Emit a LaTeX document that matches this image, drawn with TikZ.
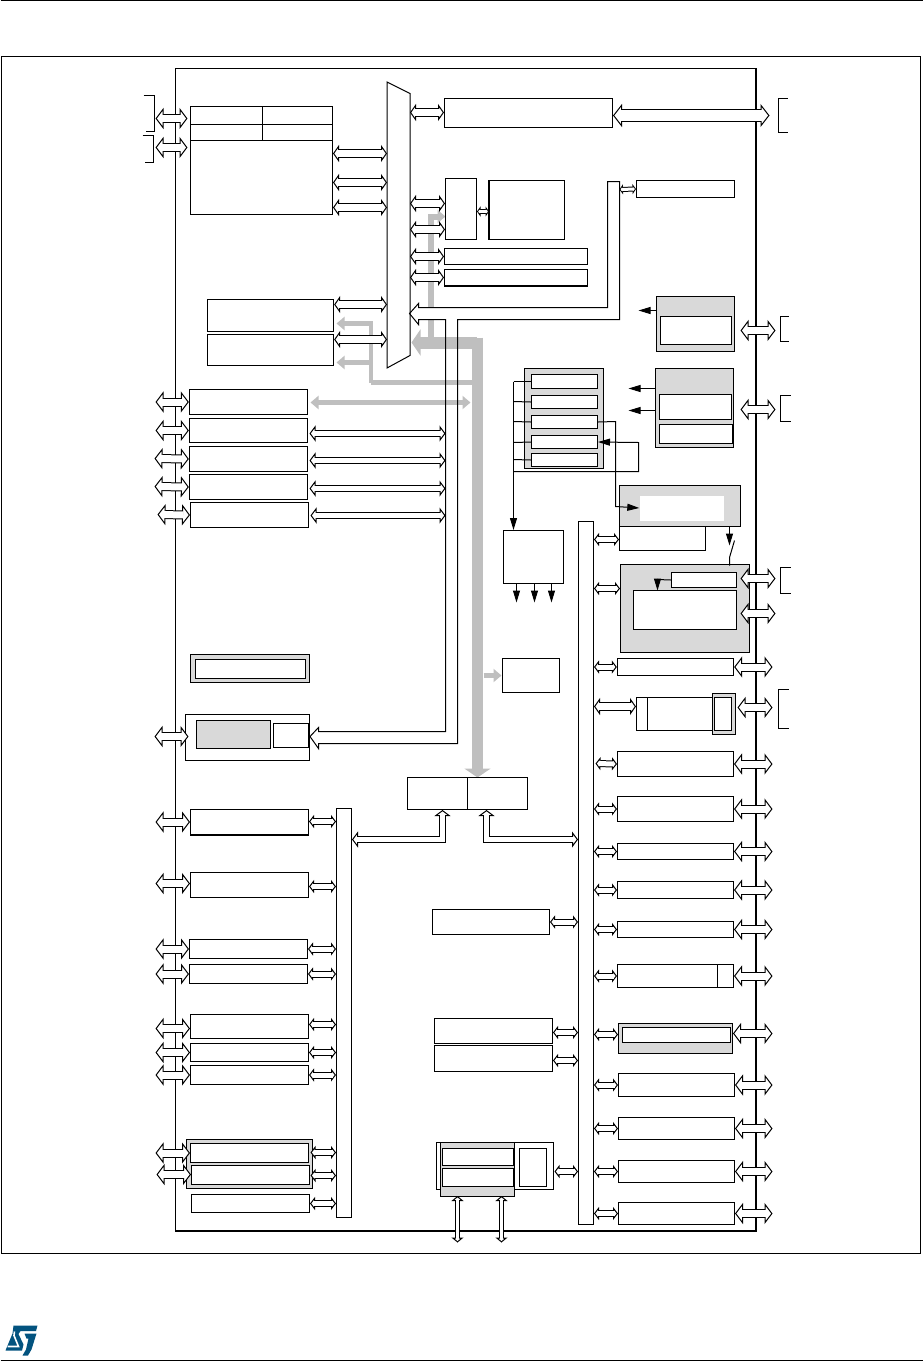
\documentclass[tikz,border=0pt]{standalone}
\usepackage{tikz}
\usetikzlibrary{arrows.meta,fit}
\definecolor{busgray}{HTML}{BFBFBF}
\definecolor{boxgray}{HTML}{D9D9D9}
\definecolor{stblue}{HTML}{03537F}
\tikzset{
blk/.style={draw,fill=white,inner sep=0pt,line width=1pt},
blkb/.style={blk,line width=1.3pt},
grybox/.style={blk,fill=boxgray},
bigarr/.style={<->,>={Triangle[length=8pt,width=21pt,line width=1pt,fill=white]},line width=9pt,postaction={draw=white,line width=7pt,arrows=-,shorten >=6.5pt,shorten <=6.5pt}},
widearr/.style={<->,>={Triangle[length=9pt,width=23pt,line width=1pt,fill=white]},line width=13pt,postaction={draw=white,line width=11pt,arrows=-,shorten >=7.5pt,shorten <=7.5pt}},
medarr/.style={<->,>={Triangle[length=6pt,width=17pt,line width=1pt,fill=white]},line width=9pt,postaction={draw=white,line width=7pt,arrows=-,shorten >=4.5pt,shorten <=4.5pt}},
thinarr/.style={<->,>={Triangle[length=6pt,width=16pt,line width=1pt,fill=white]},line width=7pt,postaction={draw=white,line width=5pt,arrows=-,shorten >=4.5pt,shorten <=4.5pt}},
smarr/.style={<->,>={Triangle[length=5pt,width=13pt,line width=1pt,fill=white]},line width=7pt,postaction={draw=white,line width=5pt,arrows=-,shorten >=3.5pt,shorten <=3.5pt}},
vertarr/.style={<->,>={Triangle[length=5pt,width=12pt,line width=1pt,fill=white]},line width=5pt,postaction={draw=white,line width=3pt,arrows=-,shorten >=3.5pt,shorten <=3.5pt}},
tinyarr/.style={<->,>={Triangle[length=3.5pt,width=10pt,line width=.8pt,fill=white]},line width=5pt,postaction={draw=white,line width=3pt,arrows=-,shorten >=2.2pt,shorten <=2.2pt}},
sig/.style={-{Triangle[length=12pt,width=7pt]},line width=1pt},
wire/.style={line width=1pt},
gry/.style={draw=busgray,line width=#1},
gryhead/.style={-{Triangle[length=8pt,width=13pt,color=busgray]}},
gryboth/.style={{Triangle[length=8pt,width=13pt,color=busgray]}-{Triangle[length=8pt,width=13pt,color=busgray]}}
}
\begin{document}
\begin{tikzpicture}[x=1pt,y=-1pt,shift={(.5,.5)}]
\useasboundingbox (-.5,-.5) rectangle (921.5,1360.5);
\draw[wire] (0,0) -- (922,0);
\draw[wire] (0,1360) -- (922,1360);
\node[draw,inner sep=0pt,line width=1pt,fit={(1,56) (920,1253)}] (page) {};
\node[draw,inner sep=0pt,line width=1pt,fit={(175,68) (755,1230)}] (chip) {};
\draw[line width=2pt] (chip.north east) -- (chip.south east) -- (chip.south west);
\coordinate (padl) at (155,0);\coordinate (padr) at (772,0);
\coordinate (stripl) at (445,319);\coordinate (stripr) at (457,319);\coordinate (stripm) at (619,189);
\draw[wire] (143,95) -- (154,95) -- (154,131) -- (145,131);
\draw[wire] (142,135) -- (153,135) -- (153,162) -- (144,162);
\draw[wire] (787,98) -- (778,98) -- (778,132) -- (787,132);
\draw[wire] (788,316) -- (780,316) -- (780,341) -- (788,341);
\draw[wire] (790,395) -- (780,395) -- (780,421) -- (790,421);
\draw[wire] (790,567) -- (780,567) -- (780,593) -- (790,593);
\draw[wire] (788,689) -- (778,689) -- (778,728) -- (788,728);
\draw[gry=6pt,-{Triangle[length=8pt,width=13pt,color=busgray]}] (430,342) -- (430,216) -- (445,216);
\fill[white] (418,307) rectangle (445,319);
\draw[gry=12pt,-{Triangle[length=9pt,width=26pt,color=busgray]}] (476.5,342) -- (411,342);
\draw[gry=11pt,-{Triangle[length=9pt,width=26pt,color=busgray]}] (477,337) -- (477,777);
\draw[gry=4.5pt] (472,382) -- (370.5,382);
\draw[gry=4.5pt,gryhead] (370.5,382) -- (370.5,323) -- (336,323);
\draw[gry=4.5pt,gryhead] (370.5,362) -- (336,362);
\draw[gry=5pt,gryboth] (310,402) -- (470,402);
\draw[gry=5pt,gryhead] (483,675) -- (501,675);
\node[blk,fit={(387,82) (409,367)},draw=none,fill=none] (busm) {};
\draw[blk] (busm.north west) -- (busm.east |- 0,93) -- (busm.east |- 0,355) -- (busm.south west) -- cycle;
\node[blk,fit={(190,106) (262,124)}] (fcta) {};
\node[blk,fit={(262,106) (332,124)}] (fctb) {};
\node[blk,fit={(190,124) (262,140)}] (fctc) {};
\node[blk,fit={(262,124) (332,140)}] (fctd) {};
\node[blk,fit={(190,140) (332,214)}] (flash) {};
\node[blkb,fit={(207,299) (333,331)}] (dmaa) {};
\node[blkb,fit={(207,334) (333,365)}] (dmab) {};
\node[blk,fit={(444,98) (612,127)}] (fsmc) {};
\node[blk,fit={(445,178) (476,239)}] (arb) {};
\node[blk,fit={(489,180) (564,239)}] (sram) {};
\draw[line width=1.6pt] (sram.north west) -- (sram.south west);
\node[blk,fit={(444,248) (587,264)}] (ahba) {};
\node[blk,fit={(444,269) (587,285)}] (ahbb) {};
\draw[line width=1.6pt] (ahbb.south west) -- (ahbb.south east);
\node[blk,fit={(636,180) (734,197)}] (crc) {};
\node[grybox,fit={(656,296) (734,351)}] (wkup) {};
\node[blk,fit={(660,316) (731,344)}] (wkupi) {};
\node[grybox,fit={(655,368) (733,447)}] (sup) {};
\node[blk,fit={(659,394) (731,419)}] (supa) {};
\node[blk,fit={(659,424) (732,443)}] (supb) {};
\node[grybox,fit={(524,368) (603,468)}] (rcc) {};
\node[blk,fit={(531,374) (597,388)}] (rcca) {};
\node[blk,fit={(531,395) (597,408)}] (rccb) {};
\node[blk,fit={(531,415) (597,428)}] (rccc) {};
\node[blk,fit={(531,435) (597,448)}] (rccd) {};
\node[blk,fit={(531,453) (597,466)}] (rcce) {};
\node[grybox,fit={(619,485) (740,526)}] (rtc) {};
\node[fill=white,inner sep=0pt,fit={(639,495) (723,520)}] (rtci) {};
\node[blk,fit={(619,526) (705,550)}] (rtcb) {};
\node[blk,fit={(503,530) (563,583)}] (pll) {};
\node[grybox,fit={(620,564) (749,652)}] (bkp) {};
\node[blk,fit={(671,572) (736,587)}] (bkpa) {};
\node[blk,fit={(633,590) (736,629)}] (bkpb) {};
\node[blkb,fit={(617,658) (733,675)}] (apba) {};
\node[blk,fit={(636,697) (712,730)}] (apbb) {};
\draw[blk] (647,697) -- (647,730);
\node[grybox,fit={(712,693) (735,734)}] (apbc) {};
\node[blk,fit={(714,697) (731,730)}] (apbd) {};
\node[blk,fit={(617,751) (733,776)}] (apbe) {};
\node[blk,fit={(617,796) (733,821)}] (apbf) {};
\node[blk,fit={(617,843) (733,859)}] (apbg) {};
\node[blk,fit={(617,881) (733,898)}] (apbh) {};
\node[blk,fit={(617,921) (733,937)}] (apbi) {};
\node[blk,fit={(617,964) (733,987)}] (apbj) {};
\draw[blk] (717,964) -- (717,987);
\node[grybox,fit={(618,1023) (732,1053)}] (apbk) {};
\node[blk,fit={(622,1027) (730,1042)}] (apbl) {};
\node[blk,fit={(618,1073) (734,1096)}] (apbm) {};
\node[blk,fit={(618,1117) (734,1139)}] (apbn) {};
\node[blk,fit={(618,1160) (734,1182)}] (apbo) {};
\node[blk,fit={(618,1202) (734,1224)}] (apbp) {};
\node[blk,fit={(578,521) (593,1224)}] (busr) {};
\node[blk,fit={(336,808) (351,1217)}] (busl) {};
\node[blk,fit={(502,658) (559,692)}] (adc) {};
\node[blk,fit={(407,777) (467,809)}] (brga) {};
\node[blk,fit={(467,777) (527,809)}] (brgb) {};
\node[blk,fit={(432,909) (549,934)}] (tima) {};
\node[blk,fit={(434,1018) (552,1043)}] (timb) {};
\node[blk,fit={(434,1045) (552,1071)}] (timc) {};
\node[blk,fit={(436,1142) (553,1189)}] (ethb) {};
\node[grybox,draw=none,fit={(440,1142) (513,1195)}] (ethg) {};
\draw[wire] (ethg.north west) -- (ethg.south west) -- (ethg.south east) -- (ethg.north east);
\node[blk,fit={(442,1148) (513,1165)}] (etha) {};
\node[blk,fit={(442,1168) (513,1186)}] (ethc) {};
\node[blk,fit={(519,1148) (546,1186)}] (ethd) {};
\node[blkb,fit={(189,389) (307,414)}] (usa) {};
\node[blkb,fit={(189,418) (307,442)}] (usb) {};
\node[blkb,fit={(189,446) (307,471)}] (usc) {};
\node[blkb,fit={(189,474) (307,499)}] (usd) {};
\node[blk,fit={(190,502) (308,527)}] (use) {};
\node[grybox,line width=1.4pt,fit={(190,654) (309,682)}] (pwr) {};
\node[blk,fit={(195,659) (305,678)}] (pwri) {};
\node[blk,fit={(185,714) (309,760)}] (dbg) {};
\node[grybox,line width=1.4pt,fit={(196,720) (270,748)}] (dbga) {};
\node[blk,fit={(273,723) (308,747)}] (dbgb) {};
\node[blk,fit={(190,809) (308,834)}] (pera) {};
\draw[line width=1.6pt] (pera.south west) -- (pera.south east);
\node[blk,fit={(190,872) (308,897)}] (perb) {};
\node[blk,fit={(189,939) (307,958)}] (perc) {};
\node[blk,fit={(189,964) (307,983)}] (perd) {};
\node[blk,fit={(190,1014) (308,1038)}] (pere) {};
\node[blk,fit={(190,1043) (308,1061)}] (perf) {};
\node[blk,fit={(190,1065) (308,1084)}] (perg) {};
\node[grybox,fit={(186,1139) (312,1188)}] (usbg) {};
\node[blk,fit={(190,1143) (308,1162)}] (usba) {};
\node[blk,fit={(191,1165) (309,1184)}] (usbb) {};
\node[blk,fit={(191,1194) (309,1212)}] (perh) {};
\draw[wire] (409,313) -- (418,303) -- (418,307) -- (607,307) -- (607,181) -- (stripm |- 0,181) -- (stripm |- stripr) -- (stripr) -- (stripr |- 0,743) -- (318,743) -- (318,748) -- (dbg.east |- 0,736) -- (318,727) -- (318,731) -- (stripl |- 0,731) -- (stripl) -- (418,319) -- (418,324) -- cycle;
\draw[bigarr] (padl |- 0,118) -- (187,118);
\draw[bigarr] (padl |- 0,147) -- (187,147);
\draw[medarr] (flash.east |- 0,153) -- (busm.west |- 0,153);
\draw[medarr] (flash.east |- 0,182) -- (busm.west |- 0,182);
\draw[medarr] (flash.east |- 0,207) -- (busm.west |- 0,207);
\draw[medarr] (dmaa.east |- 0,304) -- (busm.west |- 0,304);
\draw[medarr] (dmab.east |- 0,339) -- (busm.west |- 0,339);
\draw[medarr] (busm.east |- 0,112) -- (fsmc.west |- 0,112);
\draw[widearr] (fsmc.east |- 0,115) -- (769,115);
\draw[medarr] (busm.east |- 0,203) -- (arb.west |- 0,203);
\draw[medarr] (busm.east |- 0,229) -- (arb.west |- 0,229);
\draw[medarr] (busm.east |- 0,256) -- (ahba.west);
\draw[medarr] (busm.east |- 0,277) -- (ahbb.west);
\draw[tinyarr] (arb.east |- 0,211) -- (sram.west |- 0,211);
\draw[tinyarr] (stripm) -- (crc.west);
\draw[sig] (wkup.west |- 0,310) -- (638,310);
\draw[bigarr] (740,330) -- (775,330);
\draw[sig] (sup.west |- 0,388) -- (628,388);
\draw[sig] (sup.west |- 0,410) -- (628,410);
\draw[bigarr] (740,409) -- (775,409);
\draw[sig] (513,381) -- (pll.north -| 513,0);
\draw[wire] (513,381) -- (rcca.west);
\draw[wire] (513,401) -- (rccb.west);
\draw[wire] (513,421) -- (rccc.west);
\draw[wire] (513,442) -- (rccd.west);
\draw[wire] (513,459) -- (rcce.west);
\draw[sig] (513,471) -- (638,471) -- (638,442) -- (rccd.east);
\draw[sig] (rccc.east) -- (615,421) -- (615,506) -- (rtci.west);
\draw[sig] (729,526) -- (729,545);
\draw[wire] (734,540) -- (729,557) -- (729,565);
\draw[sig] (bkpa.west) -- (657,579) -- (657,590);
\draw[sig] (516,583) -- (516,602);\draw[sig] (534,583) -- (534,602);\draw[sig] (551,583) -- (551,602);
\draw[smarr] (busr.east |- 0,539) -- (rtcb.west |- 0,539);
\draw[smarr] (busr.east |- 0,588) -- (bkp.west |- 0,588);
\draw[bigarr] (740,578) -- (775,578);
\draw[bigarr] (740,613) -- (775,613);
\draw[smarr] (busr.east |- apba.west) -- (apba.west);
\draw[bigarr] (apba.east) -- (apba.east -| padr);
\draw[medarr] (busr.east |- 0,706) -- (apbb.west |- 0,706);
\draw[bigarr] (737,707) -- (padr |- 0,707);
\draw[smarr] (595,763) -- (apbe.west);
\draw[bigarr] (apbe.east) -- (apbe.east -| padr);
\draw[smarr] (busr.east |- apbf.west) -- (apbf.west);
\draw[bigarr] (apbf.east) -- (apbf.east -| padr);
\draw[smarr] (busr.east |- apbg.west) -- (apbg.west);
\draw[bigarr] (apbg.east) -- (apbg.east -| padr);
\draw[smarr] (busr.east |- apbh.west) -- (apbh.west);
\draw[bigarr] (apbh.east) -- (apbh.east -| padr);
\draw[smarr] (busr.east |- apbi.west) -- (apbi.west);
\draw[bigarr] (apbi.east) -- (apbi.east -| padr);
\draw[smarr] (busr.east |- apbj.west) -- (apbj.west);
\draw[bigarr] (apbj.east) -- (apbj.east -| padr);
\draw[smarr] (busr.east |- 0,1034) -- (apbk.west |- 0,1034);
\draw[bigarr] (apbk.east |- 0,1033) -- (padr |- 0,1033);
\draw[smarr] (busr.east |- apbm.west) -- (apbm.west);
\draw[bigarr] (apbm.east) -- (apbm.east -| padr);
\draw[smarr] (busr.east |- apbn.west) -- (apbn.west);
\draw[bigarr] (apbn.east) -- (apbn.east -| padr);
\draw[smarr] (busr.east |- apbo.west) -- (apbo.west);
\draw[bigarr] (apbo.east) -- (apbo.east -| padr);
\draw[smarr] (busr.east |- apbp.west) -- (apbp.west);
\draw[bigarr] (apbp.east) -- (apbp.east -| padr);
\coordinate (brgbr) at (486,839);\coordinate (brgal) at (442,839);
\draw[thinarr] (busl.east |- brgal) -- (brgal) -- (brgal |- brga.south);
\draw[thinarr] (brgbr |- brgb.south) -- (brgbr) -- (busr.west |- brgbr);
\draw[smarr] (tima.east) -- (tima.east -| busr.west);
\draw[smarr] (timb.east |- 0,1032) -- (busr.west |- 0,1032);
\draw[smarr] (timc.east |- 0,1060) -- (busr.west |- 0,1060);
\draw[smarr] (554,1171) -- (busr.west |- 0,1171);
\coordinate (ethpa) at (457,1242);\coordinate (ethpb) at (501,1242);
\draw[vertarr] (ethpa |- ethg.south) -- (ethpa);
\draw[vertarr] (ethpb |- ethg.south) -- (ethpb);
\draw[bigarr] (padl |- usa.west) -- (usa.west);
\draw[bigarr] (padl |- usb.west) -- (usb.west);
\draw[bigarr] (154,458) -- (usc.west);
\draw[bigarr] (154,486) -- (usd.west);
\draw[bigarr] (157,514) -- (use.west);
\draw[thinarr] (309,433) -- (stripl |- 0,433);
\draw[thinarr] (309,460) -- (stripl |- 0,460);
\draw[thinarr] (309,488) -- (stripl |- 0,488);
\draw[thinarr] (310,515) -- (stripl |- 0,515);
\draw[bigarr] (154,736) -- (188,736);
\draw[bigarr] (padl |- pera.west) -- (pera.west);
\draw[smarr] (pera.east |- 0,821) -- (busl.west |- 0,821);
\draw[bigarr] (padl |- 0,883) -- (perb.west |- 0,883);
\draw[smarr] (perb.east |- 0,886) -- (busl.west |- 0,886);
\draw[bigarr] (padl |- perc.west) -- (perc.west);
\draw[smarr] (perc.east) -- (perc.east -| busl.west);
\draw[bigarr] (padl |- perd.west) -- (perd.west);
\draw[smarr] (perd.east) -- (perd.east -| busl.west);
\draw[bigarr] (padl |- 0,1028) -- (pere.west |- 0,1028);
\draw[smarr] (pere.east |- 0,1024) -- (busl.west |- 0,1024);
\draw[bigarr] (padl |- perf.west) -- (perf.west);
\draw[smarr] (perf.east) -- (perf.east -| busl.west);
\draw[bigarr] (padl |- perg.west) -- (perg.west);
\draw[smarr] (perg.east) -- (perg.east -| busl.west);
\draw[bigarr] (padl |- usba.west) -- (usba.west);
\draw[smarr] (310,1152) -- (busl.west |- 0,1152);
\draw[bigarr] (156,1174) -- (usbb.west |- 0,1174);
\draw[smarr] (310,1175) -- (busl.west |- 0,1175);
\draw[smarr] (perh.east) -- (perh.east -| busl.west);
\fill[stblue] (13,1325) -- (37,1325) -- (35.5,1330.5) -- (20,1330.5) -- (18,1333.5) -- (23,1344) -- (21.5,1350) -- (5,1350) -- (12,1333) -- cycle;
\fill[stblue] (24,1333) -- (36,1333) -- (31,1349) -- (27.5,1355) -- (22,1355) -- (25.5,1349) -- (28,1338) -- (26,1338) -- cycle;
\draw[white,line width=1.6pt] (14,1331) -- (13.5,1335) -- (18,1346) -- (7,1346);
\end{tikzpicture}
\end{document}
